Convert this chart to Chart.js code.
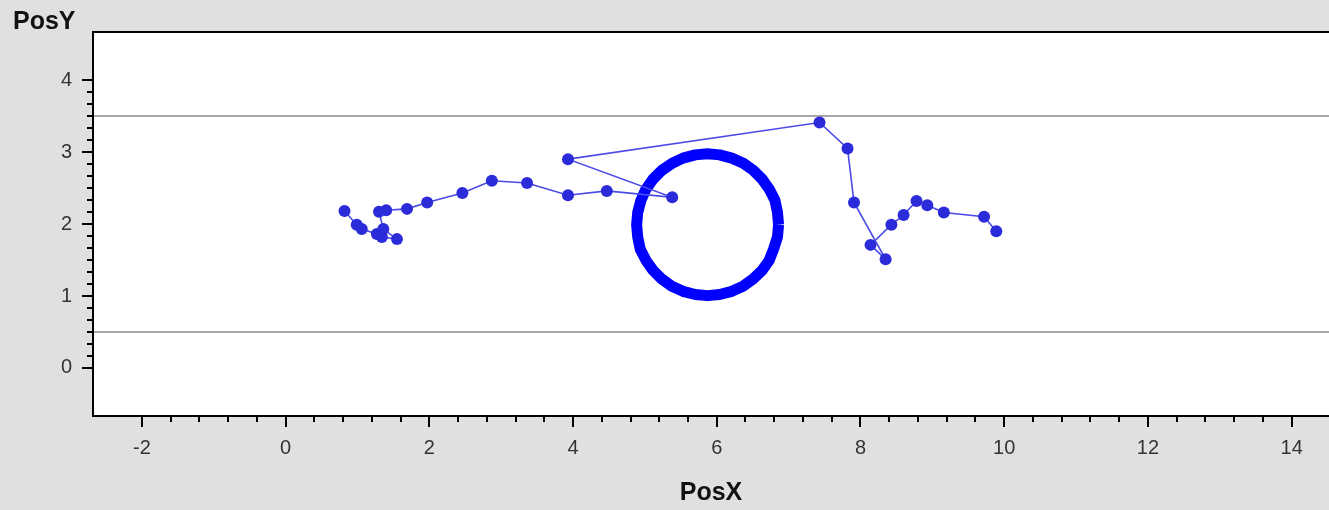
<!DOCTYPE html>
<html>
<head>
<meta charset="utf-8">
<script src="https://cdn.jsdelivr.net/npm/chart.js@4.4.1/dist/chart.umd.min.js"></script>
<style>
  html, body { margin: 0; padding: 0; background: #e0e0e0; }
  canvas { display: block; }
</style>
</head>
<body>
<canvas id="chart" width="1329" height="510"></canvas>
<script>
// tracked path (in drawing order)
const trajX = [0.82, 0.99, 1.06, 1.27, 1.34, 1.55, 1.36, 1.30, 1.40, 1.69, 1.97, 2.46, 2.87, 3.36, 3.93, 4.47, 5.38,
               3.93, 7.43, 7.82, 7.91, 8.35, 8.14, 8.43, 8.60, 8.78, 8.93, 9.16, 9.72, 9.89]
const trajY = [2.18, 1.99, 1.93, 1.86, 1.82, 1.79, 1.93, 2.17, 2.19, 2.21, 2.30, 2.43, 2.60, 2.57, 2.40, 2.46, 2.37,
               2.90, 3.41, 3.05, 2.30, 1.51, 1.71, 1.99, 2.125, 2.32, 2.26, 2.16, 2.10, 1.90]

// the ring of samples around the target
const ringX = [6.86, 6.845, 6.81, 6.73, 6.63, 6.51, 6.37, 6.21, 6.04, 5.87, 5.70, 5.53, 5.38, 5.235, 5.115, 5.015, 4.945, 4.90,
               4.885, 4.90, 4.935, 5.015, 5.115, 5.235, 5.375, 5.53, 5.70, 5.87, 6.04, 6.21, 6.365, 6.505, 6.63, 6.73, 6.79, 6.845, 6.86]
const ringY = [1.99, 2.16, 2.33, 2.485, 2.625, 2.745, 2.845, 2.915, 2.96, 2.975, 2.96, 2.915, 2.845, 2.745, 2.625, 2.485, 2.33, 2.16,
               1.99, 1.82, 1.65, 1.495, 1.355, 1.235, 1.135, 1.065, 1.02, 1.005, 1.02, 1.065, 1.135, 1.235, 1.355, 1.495, 1.65, 1.82, 1.99]

// horizontal limit lines
const refLevels = [3.5, 0.5]

const xTicks = [-2, 0, 2, 4, 6, 8, 10, 12, 14]
const yTicks = [0, 1, 2, 3, 4]
const xMin = -2.68, xMax = 14.52
const yMin = -0.667, yMax = 4.667

const toPoints = (xs, ys) => xs.map((v, i) => ({ x: v, y: ys[i] }))

const frame = {
  id: 'frame',
  beforeDraw(chart) {
    const { ctx, chartArea: a } = chart
    ctx.save()
    ctx.fillStyle = '#e0e0e0'
    ctx.fillRect(0, 0, chart.width, chart.height)
    ctx.fillStyle = '#ffffff'
    ctx.fillRect(a.left, a.top, chart.width - a.left, a.bottom - a.top)
    ctx.restore()
  },
  afterDraw(chart) {
    const { ctx, chartArea: a, scales: { x, y } } = chart
    ctx.save()
    ctx.strokeStyle = '#000'
    ctx.lineWidth = 2
    ctx.beginPath()
    ctx.moveTo(chart.width, a.top)
    ctx.lineTo(a.left, a.top)
    ctx.lineTo(a.left, a.bottom)
    ctx.lineTo(chart.width, a.bottom)
    ctx.stroke()

    // minor ticks: x every 0.4, y every 1/6
    ctx.beginPath()
    for (let i = 0; i < xTicks.length - 1; i++) {
      for (let k = 1; k < 5; k++) {
        const px = Math.round(x.getPixelForValue(xTicks[i] + k * 0.4))
        ctx.moveTo(px, a.bottom)
        ctx.lineTo(px, a.bottom + 6)
      }
    }
    for (let i = 0; i < yTicks.length - 1; i++) {
      for (let k = 1; k < 6; k++) {
        const py = Math.round(y.getPixelForValue(yTicks[i] + k / 6))
        ctx.moveTo(a.left, py)
        ctx.lineTo(a.left - 6, py)
      }
    }
    ctx.stroke()

    ctx.fillStyle = '#111'
    ctx.font = 'bold 25px "Liberation Sans", Arial, sans-serif'
    ctx.textBaseline = 'middle'
    ctx.textAlign = 'left'
    ctx.fillText('PosY', 13, 22)
    ctx.restore()
  }
}

const tickFont = { family: '"Liberation Sans", Arial, sans-serif', size: 20 }

new Chart(document.getElementById('chart'), {
  type: 'scatter',
  data: {
    datasets: [
      {
        label: 'path',
        data: toPoints(trajX, trajY),
        showLine: true,
        borderColor: '#4a4ae6',
        borderWidth: 1.6,
        pointRadius: 6,
        pointBorderWidth: 0,
        pointBackgroundColor: '#2b2bd9',
        order: 0
      },
      {
        label: 'ring',
        data: toPoints(ringX, ringY),
        showLine: true,
        borderColor: '#0000ff',
        borderWidth: 11,
        borderJoinStyle: 'round',
        pointRadius: 0,
        order: 1
      },
      ...refLevels.map(v => ({
        label: 'limit ' + v,
        data: [{ x: xMin, y: v }, { x: xMax, y: v }],
        showLine: true,
        borderColor: '#8a8a8a',
        borderWidth: 1.5,
        pointRadius: 0,
        order: 2
      }))
    ]
  },
  options: {
    responsive: false,
    animation: false,
    devicePixelRatio: 1,
    layout: { autoPadding: false, padding: { top: 32, left: 0, right: 0, bottom: 0 } },
    plugins: {
      legend: { display: false },
      tooltip: { enabled: false }
    },
    scales: {
      x: {
        type: 'linear',
        min: xMin,
        max: xMax,
        afterBuildTicks: s => { s.ticks = xTicks.map(v => ({ value: v })) },
        afterFit: s => { s.height = 94; s.paddingLeft = 0; s.paddingRight = 0 },
        grid: { display: true, drawOnChartArea: false, drawTicks: true, tickLength: 11, color: '#000', lineWidth: 2 },
        border: { display: false },
        ticks: { color: '#333', font: tickFont, padding: 9, maxRotation: 0, autoSkip: false },
        title: {
          display: true,
          text: 'PosX',
          color: '#111',
          font: { family: '"Liberation Sans", Arial, sans-serif', size: 25, weight: 'bold' },
          padding: { top: 14, bottom: 2 }
        }
      },
      y: {
        type: 'linear',
        min: yMin,
        max: yMax,
        afterBuildTicks: s => { s.ticks = yTicks.map(v => ({ value: v })) },
        afterFit: s => { s.width = 93 },
        grid: { display: true, drawOnChartArea: false, drawTicks: true, tickLength: 11, color: '#000', lineWidth: 2 },
        border: { display: false },
        ticks: { color: '#333', font: tickFont, padding: 10 }
      }
    }
  },
  plugins: [frame]
})
</script>
</body>
</html>
